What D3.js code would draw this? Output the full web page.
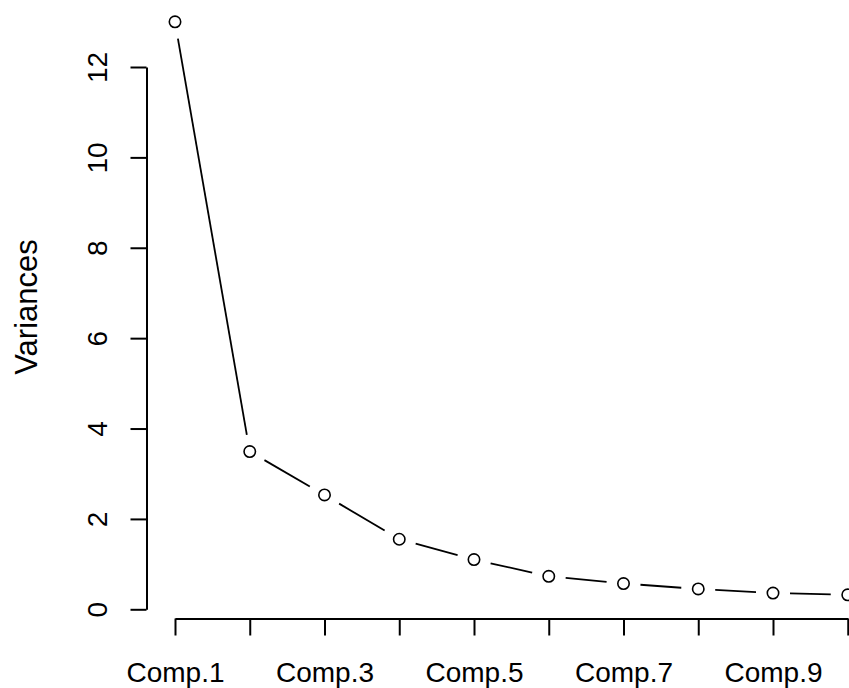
<!DOCTYPE html>
<html>
<head>
<meta charset="utf-8">
<script src="https://cdn.jsdelivr.net/npm/d3@7"></script>
<style>
  body { margin: 0; background: #fff; }
  svg { display: block; }
  text { font-family: Arial, "Liberation Sans", sans-serif; fill: #000; }
</style>
</head>
<body>
<div id="chart"></div>
<script>
// screeplot of principal components
var components = ["Comp.1", "Comp.2", "Comp.3", "Comp.4", "Comp.5",
                  "Comp.6", "Comp.7", "Comp.8", "Comp.9", "Comp.10"];
var variances = [13.0, 3.49, 2.53, 1.55, 1.10, 0.73, 0.57, 0.45, 0.36, 0.32];
var yTicks = [0, 2, 4, 6, 8, 10, 12];
// R drops every other label because they would overlap
var shownLabels = ["Comp.1", "Comp.3", "Comp.5", "Comp.7", "Comp.9"];

var width = 849, height = 688;
var fontSize = 28;

var svg = d3.select("#chart").append("svg")
    .attr("width", width)
    .attr("height", height);

var x = d3.scaleLinear().domain([1, 10]).range([175, 847.75]);
var y = d3.scaleLinear().domain([0, 12]).range([609.3, 67]);

var axisX = 146.5, axisY = 618.5;

// y axis
var gy = svg.append("g")
    .attr("transform", "translate(" + axisX + ",0)")
    .call(d3.axisLeft(y).tickValues(yTicks).tickSize(16).tickSizeOuter(0));
gy.select(".domain").attr("stroke", "#000").attr("stroke-width", 2);
gy.selectAll(".tick line").attr("stroke", "#000").attr("stroke-width", 2);
gy.selectAll(".tick text")
    .attr("x", 0).attr("y", -40).attr("dy", 0)
    .attr("transform", "rotate(-90)")
    .style("text-anchor", "middle")
    .style("font-size", fontSize + "px")
    .style("font-family", null);

// x axis
var gx = svg.append("g")
    .attr("transform", "translate(0," + axisY + ")")
    .call(d3.axisBottom(x)
        .tickValues(d3.range(1, components.length + 1))
        .tickSize(17).tickSizeOuter(0)
        .tickFormat(function(d) {
            var lab = components[d - 1];
            return shownLabels.indexOf(lab) >= 0 ? lab : "";
        }));
gx.select(".domain").attr("stroke", "#000").attr("stroke-width", 2);
gx.selectAll(".tick line").attr("stroke", "#000").attr("stroke-width", 2);
gx.selectAll(".tick text")
    .attr("y", 63).attr("dy", 0)
    .style("font-size", fontSize + "px")
    .style("font-family", null);

// axis title
svg.append("text")
    .attr("transform", "translate(" + 37 + "," + 307 + ") rotate(-90)")
    .style("text-anchor", "middle")
    .style("font-size", "31px")
    .text("Variances");

// line with gaps around the points (type = "b")
var gap = 17;
var pts = variances.map(function(v, i) { return [x(i + 1), y(v)]; });
for (var i = 0; i < pts.length - 1; i++) {
    var a = pts[i], b = pts[i + 1];
    var dx = b[0] - a[0], dy = b[1] - a[1];
    var len = Math.sqrt(dx * dx + dy * dy);
    var ux = dx / len, uy = dy / len;
    svg.append("line")
        .attr("x1", a[0] + ux * gap).attr("y1", a[1] + uy * gap)
        .attr("x2", b[0] - ux * gap).attr("y2", b[1] - uy * gap)
        .attr("stroke", "#000")
        .attr("stroke-width", 1.8);
}

svg.selectAll("circle.pt")
    .data(variances)
    .enter().append("circle")
    .attr("class", "pt")
    .attr("cx", function(d, i) { return x(i + 1); })
    .attr("cy", function(d) { return y(d); })
    .attr("r", 5.7)
    .attr("fill", "none")
    .attr("stroke", "#000")
    .attr("stroke-width", 1.6);
</script>
</body>
</html>
